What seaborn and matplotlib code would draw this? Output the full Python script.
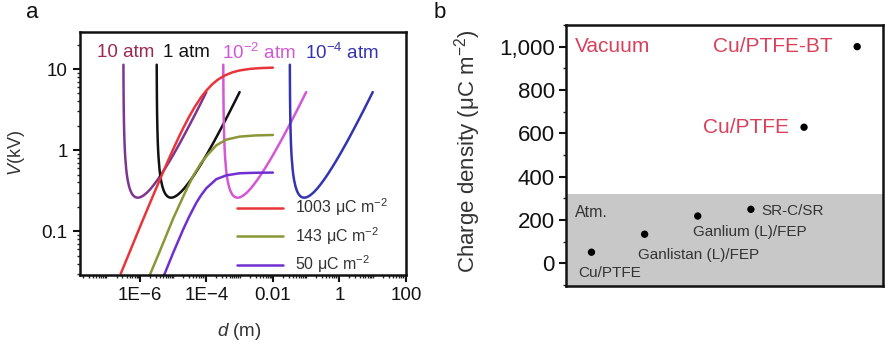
import numpy as np
import pandas as pd
import matplotlib
matplotlib.use("Agg")
import matplotlib.pyplot as plt
import seaborn as sns
from matplotlib.ticker import FixedLocator, FixedFormatter, LogLocator, NullFormatter, MultipleLocator, FuncFormatter

# ---------------- data: panel a ----------------
# Paschen curves (breakdown voltage, kV) - same voltage values for each pressure
paschen_v = [11.3, 7.0, 4.48, 3.05, 2.20, 1.74, 1.24, 0.983, 0.824, 0.581, 0.499, 0.424,
             0.356, 0.319, 0.297, 0.283, 0.271, 0.264, 0.261, 0.26, 0.262, 0.268, 0.2775,
             0.289, 0.307, 0.339, 0.372, 0.436, 0.498, 0.618, 0.732, 0.895, 1.052, 1.30,
             1.541, 2.00, 2.434, 3.06, 3.865, 5.20]
d_10atm = [3.228e-7, 3.245e-7, 3.271e-7, 3.306e-7, 3.350e-7, 3.393e-7, 3.480e-7, 3.567e-7,
           3.654e-7, 3.915e-7, 4.089e-7, 4.350e-7, 4.785e-7, 5.220e-7, 5.655e-7, 6.090e-7,
           6.699e-7, 7.395e-7, 8.004e-7, 8.700e-7, 1.001e-6, 1.131e-6, 1.305e-6, 1.479e-6,
           1.740e-6, 2.175e-6, 2.610e-6, 3.480e-6, 4.350e-6, 6.090e-6, 7.830e-6, 1.044e-5,
           1.305e-5, 1.740e-5, 2.175e-5, 3.045e-5, 3.915e-5, 5.220e-5, 6.960e-5, 1.000e-4]
d_1atm = [3.228e-6, 3.245e-6, 3.271e-6, 3.306e-6, 3.350e-6, 3.393e-6, 3.480e-6, 3.567e-6,
          3.654e-6, 3.915e-6, 4.089e-6, 4.350e-6, 4.785e-6, 5.220e-6, 5.655e-6, 6.090e-6,
          6.699e-6, 7.395e-6, 8.004e-6, 8.700e-6, 1.001e-5, 1.131e-5, 1.305e-5, 1.479e-5,
          1.740e-5, 2.175e-5, 2.610e-5, 3.480e-5, 4.350e-5, 6.090e-5, 7.830e-5, 1.044e-4,
          1.305e-4, 1.740e-4, 2.175e-4, 3.045e-4, 3.915e-4, 5.220e-4, 6.960e-4, 1.000e-3]
d_1e2atm = [3.228e-4, 3.245e-4, 3.271e-4, 3.306e-4, 3.350e-4, 3.393e-4, 3.480e-4, 3.567e-4,
            3.654e-4, 3.915e-4, 4.089e-4, 4.350e-4, 4.785e-4, 5.220e-4, 5.655e-4, 6.090e-4,
            6.699e-4, 7.395e-4, 8.004e-4, 8.700e-4, 1.001e-3, 1.131e-3, 1.305e-3, 1.479e-3,
            1.740e-3, 2.175e-3, 2.610e-3, 3.480e-3, 4.350e-3, 6.090e-3, 7.830e-3, 1.044e-2,
            1.305e-2, 1.740e-2, 2.175e-2, 3.045e-2, 3.915e-2, 5.220e-2, 6.960e-2, 1.000e-1]
d_1e4atm = [3.228e-2, 3.245e-2, 3.271e-2, 3.306e-2, 3.350e-2, 3.393e-2, 3.480e-2, 3.567e-2,
            3.654e-2, 3.915e-2, 4.089e-2, 4.350e-2, 4.785e-2, 5.220e-2, 5.655e-2, 6.090e-2,
            6.699e-2, 7.395e-2, 8.004e-2, 8.700e-2, 1.001e-1, 1.131e-1, 1.305e-1, 1.479e-1,
            1.740e-1, 2.175e-1, 2.610e-1, 3.480e-1, 4.350e-1, 6.090e-1, 7.830e-1, 1.044,
            1.305, 1.740, 2.175, 3.045, 3.915, 5.220, 6.960, 10.00]
pressure_labels = ["10 atm", "1 atm", "10$^{-2}$ atm", "10$^{-4}$ atm"]

# TENG voltage vs gap for three charge densities
d_1003 = [2.67e-7, 5e-7, 1e-6, 2e-6, 4e-6, 7e-6, 1e-5, 1.5e-5, 2e-5, 3e-5, 4.5e-5, 7e-5,
          1e-4, 1.5e-4, 2.2e-4, 3.5e-4, 6e-4, 1e-3, 2e-3, 4e-3, 1e-2]
v_1003 = [0.030, 0.056, 0.112, 0.221, 0.433, 0.735, 1.02, 1.46, 1.86, 2.56, 3.42, 4.51,
          5.44, 6.48, 7.38, 8.30, 9.09, 9.61, 10.03, 10.26, 10.40]
d_143 = [2e-6, 4e-6, 1e-5, 2.2e-5, 4e-5, 7e-5, 1.1e-4, 2e-4, 4e-4, 1e-3, 3e-3, 1e-2]
v_143 = [0.029, 0.057, 0.143, 0.29, 0.48, 0.70, 0.88, 1.15, 1.35, 1.47, 1.52, 1.54]
d_50 = [5.4e-6, 1e-5, 2e-5, 3e-5, 5e-5, 7e-5, 1e-4, 2e-4, 4e-4, 1e-3, 3e-3, 1e-2]
v_50 = [0.029, 0.054, 0.105, 0.15, 0.225, 0.28, 0.34, 0.44, 0.49, 0.52, 0.527, 0.53]
charge_labels = ["1003 \u03bcC m$^{-2}$", "143 \u03bcC m$^{-2}$", "50 \u03bcC m$^{-2}$"]

x_ticks = [1e-6, 1e-4, 1e-2, 1, 100]
x_ticklabels = ["1E\u22126", "1E\u22124", "0.01", "1", "100"]
y_ticks = [0.1, 1, 10]
y_ticklabels = ["0.1", "1", "10"]

# ---------------- data: panel b ----------------
materials = ["Cu/PTFE", "Ganlistan (L)/FEP", "Ganlium (L)/FEP", "SR-C/SR", "Cu/PTFE", "Cu/PTFE-BT"]
mat_pos = [1, 2, 3, 4, 5, 6]
charge_density = [51, 134, 218, 249, 628, 1000]
atm_limit = 320

# ---------------- styling ----------------
sns.set_theme(style="ticks")
plt.rcParams["font.family"] = ["Liberation Sans", "DejaVu Sans"]
plt.rcParams["mathtext.fontset"] = "custom"
plt.rcParams["mathtext.rm"] = "Liberation Sans"
plt.rcParams["mathtext.it"] = "Liberation Sans:italic"
plt.rcParams["mathtext.bf"] = "Liberation Sans:bold"
plt.rcParams["axes.unicode_minus"] = True

fig = plt.figure(figsize=(8.85, 3.47), dpi=100)
ax = fig.add_axes([0.0904, 0.2075, 0.3684, 0.7003])
bx = fig.add_axes([0.6395, 0.1758, 0.3585, 0.7522])

paschen_colors = ["#7e3590", "#111111", "#d457d6", "#3434b0"]
paschen_text_colors = ["#9a2a4e", "#111111", "#d457d6", "#3434b0"]
for dd, c in zip([d_10atm, d_1atm, d_1e2atm, d_1e4atm], paschen_colors):
    df = pd.DataFrame({"d": dd, "V": paschen_v})
    sns.lineplot(data=df, x="d", y="V", sort=False, estimator=None, color=c, lw=1.8, ax=ax)

charge_colors = ["#e8353a", "#8a9638", "#7030d0"]
for dd, vv, c, lab in zip([d_1003, d_143, d_50], [v_1003, v_143, v_50], charge_colors, charge_labels):
    df = pd.DataFrame({"d": dd, "V": vv})
    sns.lineplot(data=df, x="d", y="V", sort=False, estimator=None, color=c, lw=1.8,
                 ax=ax, label=lab)

ax.set_xscale("log")
ax.set_yscale("log")
ax.set_xlim(1.6e-8, 100)
ax.set_ylim(0.029, 28.6)
ax.xaxis.set_major_locator(FixedLocator(x_ticks))
ax.xaxis.set_major_formatter(FixedFormatter(x_ticklabels))
ax.xaxis.set_minor_locator(LogLocator(base=10, subs=np.arange(1, 10), numticks=40))
ax.xaxis.set_minor_formatter(NullFormatter())
ax.yaxis.set_major_locator(FixedLocator(y_ticks))
ax.yaxis.set_major_formatter(FixedFormatter(y_ticklabels))
ax.yaxis.set_minor_locator(LogLocator(base=10, subs=np.arange(1, 10), numticks=40))
ax.yaxis.set_minor_formatter(NullFormatter())
ax.tick_params(which="major", direction="out", length=5, width=1.5, labelsize=13.5, pad=4,
               colors="#111111")
ax.tick_params(which="minor", direction="out", length=2.5, width=1.0)
for s in ax.spines.values():
    s.set_linewidth(1.8)
    s.set_color("#111111")
ax.set_xlabel("$d$ (m)", fontsize=13.5, color="#333333")
ax.set_ylabel("$V$(kV)", fontsize=13, color="#333333")
ax.xaxis.set_label_coords(0.49, -0.19)
ax.yaxis.set_label_coords(-0.163, 0.5)

label_x = [0.052, 0.255, 0.436, 0.69]
for lab, c, lx in zip(pressure_labels, paschen_text_colors, label_x):
    ax.text(lx, 0.914, lab, transform=ax.transAxes, color=c, fontsize=13.5,
            ha="left", va="center")

leg = ax.legend(loc="upper left", bbox_to_anchor=(0.482, 0.322), frameon=False,
                borderpad=0, borderaxespad=0, handlelength=2.9, handletextpad=0.7,
                labelspacing=0.42, fontsize=11.5)
for t in leg.get_texts():
    t.set_color("#333333")
for h in leg.get_lines():
    h.set_linewidth(1.8)

# ---------------- panel b ----------------
bx.axhspan(-200, atm_limit, color="#c8c8c8", zorder=0, lw=0)
dfb = pd.DataFrame({"pos": mat_pos, "sigma": charge_density, "name": materials})
sns.scatterplot(data=dfb, x="pos", y="sigma", color="black", s=28, edgecolor="none",
                ax=bx, zorder=3)
bx.set_xlim(0.52, 6.49)
bx.set_ylim(-105, 1100)
bx.set_xticks([])
bx.yaxis.set_major_locator(MultipleLocator(200))
bx.yaxis.set_minor_locator(MultipleLocator(100))
bx.yaxis.set_major_formatter(FuncFormatter(lambda v, p: f"{int(v):,}"))
bx.tick_params(axis="y", which="major", direction="out", length=5, width=1.5,
               labelsize=16, pad=3, colors="#111111")
bx.tick_params(axis="y", which="minor", direction="out", length=2.5, width=1.0)
for s in bx.spines.values():
    s.set_linewidth(1.8)
    s.set_color("#111111")
bx.set_xlabel("")
bx.set_ylabel("Charge density (\u03bcC m$^{-2}$)", fontsize=16, color="#333333")
bx.yaxis.set_label_coords(-0.262, 0.515)

red = "#d9405a"
bx.text(0.028, 0.916, "Vacuum", transform=bx.transAxes, color=red, fontsize=15,
        ha="left", va="center")
bx.text(0.028, 0.282, "Atm.", transform=bx.transAxes, color="#333333", fontsize=11.5,
        ha="left", va="center")

offsets = [(-9.6, -14.7), (-4.6, -14.9), (-3.1, -11.3), (7.2, -1.0), (-10.8, 0), (-17.8, 0)]
has = ["left", "left", "left", "left", "right", "right"]
sizes = [11, 11, 11, 11, 15, 15]
colors = ["#333333", "#333333", "#333333", "#333333", red, red]
for name, xp, yp, off, ha, fs, c in zip(materials, mat_pos, charge_density, offsets, has, sizes, colors):
    bx.annotate(name, (xp, yp), xytext=off, textcoords="offset points", ha=ha, va="center",
                fontsize=fs, color=c)

fig.text(0.036, 0.963, "a", fontsize=16, ha="center", va="center", color="#111111")
fig.text(0.497, 0.963, "b", fontsize=16, ha="center", va="center", color="#111111")

fig.savefig("out.png", dpi=100)
